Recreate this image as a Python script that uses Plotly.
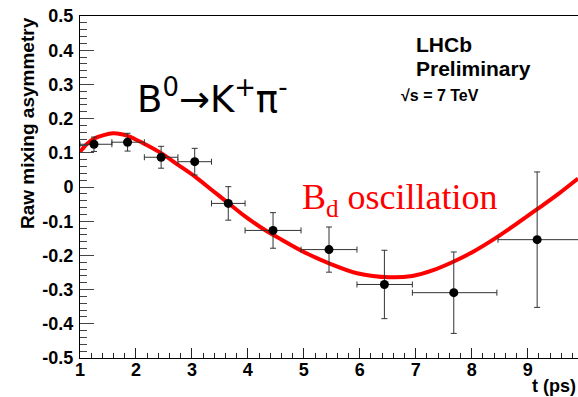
import plotly.graph_objects as go

# ---- data ----
t_points = [1.25, 1.85, 2.45, 3.05, 3.65, 4.45, 5.45, 6.44, 7.68, 9.17]
bin_lo = [1.00, 1.57, 2.15, 2.75, 3.35, 3.95, 4.95, 5.95, 6.94, 8.47]
bin_hi = [1.57, 2.15, 2.75, 3.35, 3.95, 4.95, 5.95, 6.94, 8.45, 9.95]
asym = [0.125, 0.131, 0.087, 0.074, -0.048, -0.127, -0.183, -0.285, -0.309, -0.154]
asym_err = [0.021, 0.026, 0.032, 0.039, 0.049, 0.052, 0.066, 0.100, 0.119, 0.198]

curve_t = [1.0, 1.12, 1.27, 1.59, 1.86, 2.13, 2.45, 2.76, 3.05, 3.35, 3.65, 3.95, 4.27,
           4.57, 5.0, 5.45, 5.95, 6.54, 6.94, 7.3, 7.68, 8.05, 8.44, 8.8, 9.17, 9.55, 9.9]
curve_a = [0.103, 0.125, 0.143, 0.157, 0.149, 0.128, 0.099, 0.064, 0.031, -0.008, -0.047,
           -0.086, -0.122, -0.151, -0.190, -0.223, -0.252, -0.264, -0.260, -0.244,
           -0.218, -0.187, -0.148, -0.108, -0.065, -0.020, 0.025]

x_ticks = [1, 2, 3, 4, 5, 6, 7, 8, 9]
y_ticks = [0.5, 0.4, 0.3, 0.2, 0.1, 0.0, -0.1, -0.2, -0.3, -0.4, -0.5]
y_tick_text = ["0.5", "0.4", "0.3", "0.2", "0.1", "0", "-0.1", "-0.2", "-0.3", "-0.4", "-0.5"]

W, H = 578, 397
ML, MR, MT, MB = 80, 0, 16, 39
PW, PH = W - ML - MR, H - MT - MB


def px(xp):
    return (xp - ML) / PW


def py(yp):
    return (H - MB - yp) / PH


err_plus = [h - t for t, h in zip(t_points, bin_hi)]
err_minus = [t - l for t, l in zip(t_points, bin_lo)]

fig = go.Figure()
fig.add_trace(go.Scatter(
    x=curve_t, y=curve_a, mode="lines",
    line=dict(color="#ff0000", width=4, shape="spline", smoothing=0.8),
    hoverinfo="skip", showlegend=False))
fig.add_trace(go.Scatter(
    x=t_points, y=asym, mode="markers",
    marker=dict(color="black", size=9),
    error_x=dict(type="data", symmetric=False, array=err_plus, arrayminus=err_minus,
                 color="#333333", thickness=1, width=3),
    error_y=dict(type="data", array=asym_err, color="#333333", thickness=1, width=3),
    showlegend=False))

SANS = "Liberation Sans, Arial, sans-serif"
tickfont = dict(family=SANS, size=18, color="black", weight="bold")

fig.update_layout(
    width=W, height=H,
    margin=dict(l=ML, r=MR, t=MT, b=MB, pad=0),
    paper_bgcolor="white", plot_bgcolor="white",
    xaxis=dict(range=[1, 9.9], tickvals=x_ticks, ticks="inside", ticklen=10, tickwidth=1,
               tickcolor="#222", showline=True, linecolor="black", linewidth=1, mirror=True,
               showgrid=False, zeroline=False, tickfont=tickfont, ticklabelstandoff=-5,
               minor=dict(ticks="inside", ticklen=5, dtick=0.2, tick0=1, tickcolor="#222", showgrid=False)),
    yaxis=dict(range=[-0.5, 0.5], tickvals=y_ticks, ticktext=y_tick_text, ticks="inside",
               ticklen=14, tickwidth=1, tickcolor="#444", showline=True, linecolor="black",
               linewidth=1, mirror=True, showgrid=False, zeroline=False, tickfont=tickfont,
               ticklabelstandoff=2,
               minor=dict(ticks="inside", ticklen=7, dtick=0.02, tick0=0, tickcolor="#444", showgrid=False)),
)

ann = [
    dict(text="Raw mixing asymmetry", x=px(27), y=py(123), textangle=-90,
         xanchor="center", yanchor="middle",
         font=dict(family=SANS, size=19, color="black", weight="bold")),
    dict(text="t (ps)", x=px(578), y=py(386), xanchor="right", yanchor="middle",
         font=dict(family=SANS, size=18, color="black", weight="bold")),
    dict(text="B<sup>0</sup>→K<sup>+</sup>π<sup>-</sup>", x=px(135), y=py(97), xanchor="left",
         yanchor="middle", font=dict(family="DejaVu Sans, sans-serif", size=37, color="black")),
    dict(text="B<sub>d</sub> oscillation", x=px(300), y=py(199), xanchor="left", yanchor="middle",
         font=dict(family="Liberation Serif, Times New Roman, serif", size=36, color="#ff0000")),
    dict(text="LHCb", x=px(414), y=py(45), xanchor="left", yanchor="middle",
         font=dict(family=SANS, size=21, color="black", weight="bold")),
    dict(text="Preliminary", x=px(414), y=py(68), xanchor="left", yanchor="middle",
         font=dict(family=SANS, size=21, color="black", weight="bold")),
    dict(text="√s = 7 TeV", x=px(399), y=py(95), xanchor="left", yanchor="middle",
         font=dict(family=SANS, size=16, color="black", weight="bold")),
]
for a in ann:
    a.update(xref="paper", yref="paper", showarrow=False)
fig.update_layout(annotations=ann)

fig.write_html("out.html")
